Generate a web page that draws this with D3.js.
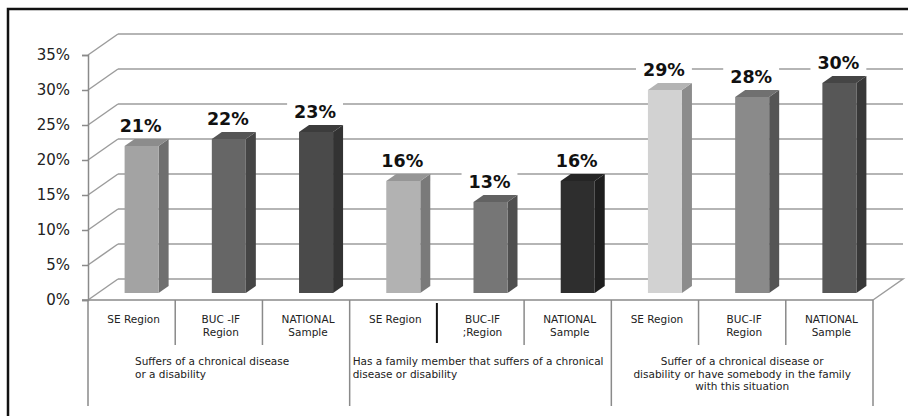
<!DOCTYPE html>
<html>
<head>
<meta charset="utf-8">
<script src="https://cdn.jsdelivr.net/npm/d3@7/dist/d3.min.js"></script>
<style>
  html, body { margin: 0; padding: 0; background: #fff; }
  svg { display: block; }
  text { font-family: "DejaVu Sans", sans-serif; }
</style>
</head>
<body>
<svg id="chart" width="908" height="416"></svg>
<script>
// Survey shares by region, three questions
const groups = [
  ["Suffers of a chronical disease", "or a disability"],
  ["Has a family member that suffers of a chronical", "disease or disability"],
  ["Suffer of a chronical disease or", "disability or have somebody in the family", "with this situation"]
];
const groupAlign = ["start", "start", "middle"];
const regionLabels = [
  [["SE Region"], ["BUC -IF", "Region"], ["NATIONAL", "Sample"]],
  [["SE Region"], ["BUC-IF", ";Region"], ["NATIONAL", "Sample"]],
  [["SE Region"], ["BUC-IF", "Region"], ["NATIONAL", "Sample"]]
];
const values = [
  [0.21, 0.22, 0.23],
  [0.16, 0.13, 0.16],
  [0.29, 0.28, 0.30]
];
const yTicks = [0, 0.05, 0.10, 0.15, 0.20, 0.25, 0.30, 0.35];
const frontFill = [
  ["#a3a3a3", "#666666", "#4a4a4a"],
  ["#b2b2b2", "#767676", "#2e2e2e"],
  ["#d2d2d2", "#8a8a8a", "#575757"]
];
const sideFill = [
  ["#6f6f6f", "#454545", "#333333"],
  ["#7a7a7a", "#4f4f4f", "#1e1e1e"],
  ["#8c8c8c", "#555555", "#383838"]
];
const topFill = [
  ["#8c8c8c", "#555555", "#3c3c3c"],
  ["#969696", "#626262", "#252525"],
  ["#b4b4b4", "#707070", "#454545"]
];

const svg = d3.select("#chart");

// frame
svg.append("rect").attr("x", 8).attr("y", 9).attr("width", 940).attr("height", 440)
  .attr("fill", "#fff").attr("stroke", "#111").attr("stroke-width", 2.5);

// slots: one per bar
const slots = [];
values.forEach((vs, g) => vs.forEach((v, i) => slots.push({ g, i, v, id: g + "-" + i })));

const x = d3.scaleBand().domain(slots.map(d => d.id)).range([88, 873]).padding(0);
const y = d3.scaleLinear().domain([0, 0.35]).range([300, 55]);
const DX = 30, DY = -21; // depth of the 3D box

const grid = "#9c9c9c";
const axisCol = "#8a8a8a";

// back wall gridlines + side diagonals
const gl = svg.append("g");
yTicks.forEach(t => {
  const yy = y(t);
  gl.append("line").attr("x1", x.range()[0]).attr("y1", yy)
    .attr("x2", x.range()[0] + DX).attr("y2", yy + DY)
    .attr("stroke", grid).attr("stroke-width", 1.5);
  if (t > 0) {
    gl.append("line").attr("x1", x.range()[0] + DX).attr("y1", yy + DY)
      .attr("x2", x.range()[1] + DX).attr("y2", yy + DY)
      .attr("stroke", grid).attr("stroke-width", 1.5);
  }
});
// floor
const fy = y(0);
gl.append("path")
  .attr("d", `M${x.range()[0] + DX},${fy + DY}L${x.range()[1] + DX},${fy + DY}L${x.range()[1]},${fy}`)
  .attr("fill", "none").attr("stroke", grid).attr("stroke-width", 1.5);

// value axis
const yAxis = d3.axisLeft(y).tickValues(yTicks).tickFormat(d3.format(".0%")).tickSize(6).tickPadding(12);
const ya = svg.append("g").attr("transform", `translate(${x.range()[0]},0)`).call(yAxis);
ya.select(".domain").attr("stroke", axisCol).attr("stroke-width", 1.5);
ya.selectAll(".tick line").attr("stroke", axisCol).attr("stroke-width", 1.5);
ya.selectAll(".tick text").attr("font-size", 15).attr("fill", "#222")
  .attr("font-family", "DejaVu Sans, sans-serif");

// category axis: front edge and dividers
svg.append("line").attr("x1", x.range()[0] - 6).attr("y1", fy).attr("x2", x.range()[1]).attr("y2", fy)
  .attr("stroke", axisCol).attr("stroke-width", 1.5);
const bounds = d3.range(slots.length + 1).map(k => x.range()[0] + k * x.step());
bounds.forEach((bx, k) => {
  const isGroup = k % 3 === 0;
  svg.append("line").attr("x1", bx).attr("x2", bx)
    .attr("y1", k === 4 ? fy + 3 : fy).attr("y2", isGroup ? 406 : (k === 4 ? 343 : 345))
    .attr("stroke", k === 4 ? "#111" : axisCol).attr("stroke-width", k === 4 ? 2 : 1.5);
});

// bars
const bw = x.bandwidth() * 0.39;
const bdx = DX / 3, bdy = DY / 3;
const bars = svg.append("g");
slots.forEach(d => {
  const cx = x(d.id) + x.bandwidth() / 2 + bdx;
  const x0 = cx - bw / 2, x1 = cx + bw / 2;
  const yb = y(0) + bdy;
  const yt = y(d.v) + bdy;
  bars.append("path")
    .attr("d", `M${x1},${yt}L${x1 + bdx},${yt + bdy}L${x1 + bdx},${yb + bdy}L${x1},${yb}Z`)
    .attr("fill", sideFill[d.g][d.i]);
  bars.append("path")
    .attr("d", `M${x0},${yt}L${x1},${yt}L${x1 + bdx},${yt + bdy}L${x0 + bdx},${yt + bdy}Z`)
    .attr("fill", topFill[d.g][d.i]);
  bars.append("rect").attr("x", x0).attr("y", yt).attr("width", bw).attr("height", yb - yt)
    .attr("fill", frontFill[d.g][d.i]);

  // value label on a white box
  const lbl = svg.append("g");
  const ty = yt - 14;
  const tx = cx - 1;
  const t = lbl.append("text").attr("x", tx).attr("y", ty).attr("text-anchor", "middle")
    .attr("font-size", 17.5).attr("font-weight", "bold").attr("fill", "#111")
    .text(d3.format(".0%")(d.v));
  const bb = t.node().getBBox();
  lbl.insert("rect", "text").attr("x", bb.x - 7).attr("y", bb.y - 1)
    .attr("width", bb.width + 14).attr("height", bb.height + 3).attr("fill", "#fff");

  // category label
  const lines = regionLabels[d.g][d.i];
  const ct = svg.append("text").attr("text-anchor", "middle").attr("font-size", 10.5).attr("fill", "#222");
  lines.forEach((ln, j) => {
    ct.append("tspan").attr("x", x(d.id) + x.bandwidth() / 2 + 2).attr("y", 323 + j * 12.5).text(ln);
  });
});

// group labels
groups.forEach((lines, g) => {
  const gx0 = bounds[g * 3], gx1 = bounds[g * 3 + 3];
  const anchor = groupAlign[g];
  const tx = anchor === "middle" ? (gx0 + gx1) / 2 : (g === 0 ? gx0 + 47 : gx0 + 3);
  const gt = svg.append("text").attr("text-anchor", anchor).attr("font-size", 10.5).attr("fill", "#222");
  lines.forEach((ln, j) => {
    gt.append("tspan").attr("x", tx).attr("y", 365 + j * 12.5).text(ln);
  });
});
</script>
</body>
</html>
